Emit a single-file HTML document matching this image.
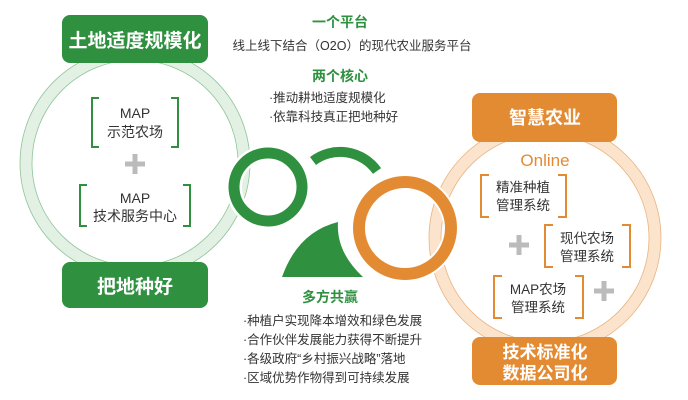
<!DOCTYPE html>
<html><head><meta charset="utf-8"><style>
html,body{margin:0;padding:0;background:#fff;}
body{width:688px;height:400px;overflow:hidden;position:relative;font-family:"Liberation Sans","Noto Sans CJK SC",sans-serif;}
svg{position:absolute;left:0;top:0;}
text{font-family:"Liberation Sans","Noto Sans CJK SC",sans-serif;}
</style></head><body>
<svg width="688" height="400" viewBox="0 0 688 400">
 <!-- green big circle -->
 <circle cx="135" cy="163" r="109" fill="none" stroke="#e3f1e4" stroke-width="12"/>
 <circle cx="135" cy="163" r="115" fill="none" stroke="#8fc49a" stroke-width="0.8"/>
 <circle cx="135" cy="163" r="103" fill="none" stroke="#8fc49a" stroke-width="0.8"/>
 <!-- orange big circle -->
 <circle cx="545" cy="238" r="110" fill="none" stroke="#fbe3cc" stroke-width="12"/>
 <circle cx="545" cy="238" r="116" fill="none" stroke="#e7b583" stroke-width="0.8"/>
 <circle cx="545" cy="238" r="104" fill="none" stroke="#e7b583" stroke-width="0.8"/>

 <!-- boxes green -->
 <rect x="62" y="15" width="146" height="48" rx="8" fill="#2f9140"/>
 <text x="135" y="47" font-size="19" font-weight="bold" fill="#fff" text-anchor="middle">土地适度规模化</text>
 <rect x="62" y="262" width="146" height="46" rx="8" fill="#2f9140"/>
 <text x="135" y="293" font-size="19" font-weight="bold" fill="#fff" text-anchor="middle">把地种好</text>

 <!-- boxes orange -->
 <rect x="472" y="93" width="145" height="49" rx="8" fill="#e38b33"/>
 <text x="545" y="124" font-size="18" font-weight="bold" fill="#fff" text-anchor="middle">智慧农业</text>
 <rect x="472" y="337" width="145" height="48" rx="8" fill="#e38b33"/>
 <text x="545" y="358" font-size="17" font-weight="bold" fill="#fff" text-anchor="middle">技术标准化</text>
 <text x="545" y="379" font-size="17" font-weight="bold" fill="#fff" text-anchor="middle">数据公司化</text>

 <!-- green brackets -->
 <g fill="none" stroke="#2f9140" stroke-width="2">
  <path d="M99,98 H92 V147 H99"/><path d="M171,98 H178 V147 H171"/>
  <path d="M87,185 H80 V226 H87"/><path d="M183,185 H190 V226 H183"/>
 </g>
 <text x="135" y="118" font-size="14" fill="#333" text-anchor="middle">MAP</text>
 <text x="135" y="137" font-size="14" fill="#333" text-anchor="middle">示范农场</text>
 <path d="M125,164 H145 M135,154 V174" stroke="#bbb" stroke-width="5"/>
 <text x="135" y="203" font-size="14" fill="#333" text-anchor="middle">MAP</text>
 <text x="135" y="221" font-size="14" fill="#333" text-anchor="middle">技术服务中心</text>

 <!-- orange brackets -->
 <text x="545" y="166" font-size="17" fill="#e38b33" text-anchor="middle">Online</text>
 <g fill="none" stroke="#e38b33" stroke-width="2">
  <path d="M489,175 H481 V217 H489"/><path d="M558,175 H566 V217 H558"/>
  <path d="M553,225 H545 V267 H553"/><path d="M622,225 H630 V267 H622"/>
  <path d="M502,276 H494 V318 H502"/><path d="M575,276 H583 V318 H575"/>
 </g>
 <text x="523" y="192" font-size="13.5" fill="#333" text-anchor="middle">精准种植</text>
 <text x="523" y="210" font-size="13.5" fill="#333" text-anchor="middle">管理系统</text>
 <text x="587" y="243" font-size="13.5" fill="#333" text-anchor="middle">现代农场</text>
 <text x="587" y="261" font-size="13.5" fill="#333" text-anchor="middle">管理系统</text>
 <text x="538" y="294" font-size="13.5" fill="#333" text-anchor="middle">MAP农场</text>
 <text x="538" y="312" font-size="13.5" fill="#333" text-anchor="middle">管理系统</text>
 <path d="M509,245 H529 M519,235 V255" stroke="#bbb" stroke-width="5"/>
 <path d="M594,291 H614 M604,281 V301" stroke="#bbb" stroke-width="5"/>

 <!-- O2O -->
 <circle cx="268" cy="187" r="34" fill="none" stroke="#fff" stroke-width="16"/>
 <circle cx="268" cy="187" r="34" fill="none" stroke="#2f9140" stroke-width="11"/>
 <path d="M313,161 A45,45 0 0 1 377,171" fill="none" stroke="#2f9140" stroke-width="10"/>
 <path d="M282,277 Q298,232 338,222 Q336,252 363,277 Z" fill="#2f9140"/>
 <circle cx="405" cy="228" r="46" fill="none" stroke="#fff" stroke-width="16"/>
 <circle cx="405" cy="228" r="46" fill="none" stroke="#e38b33" stroke-width="12"/>

 <!-- texts -->
 <text x="340" y="27" font-size="14" font-weight="bold" fill="#2f9140" text-anchor="middle">一个平台</text>
 <text x="352" y="50" font-size="12.5" fill="#333" text-anchor="middle">线上线下结合（O2O）的现代农业服务平台</text>
 <text x="340" y="81" font-size="14" font-weight="bold" fill="#2f9140" text-anchor="middle">两个核心</text>
 <text x="269" y="102" font-size="12.5" fill="#333">·推动耕地适度规模化</text>
 <text x="269" y="121" font-size="12.5" fill="#333">·依靠科技真正把地种好</text>
 <text x="330" y="302" font-size="14" font-weight="bold" fill="#2f9140" text-anchor="middle">多方共赢</text>
 <text x="243" y="325" font-size="12.5" fill="#333">·种植户实现降本增效和绿色发展</text>
 <text x="243" y="344" font-size="12.5" fill="#333">·合作伙伴发展能力获得不断提升</text>
 <text x="243" y="363" font-size="12.5" fill="#333">·各级政府“乡村振兴战略”落地</text>
 <text x="243" y="382" font-size="12.5" fill="#333">·区域优势作物得到可持续发展</text>
</svg>
</body></html>
